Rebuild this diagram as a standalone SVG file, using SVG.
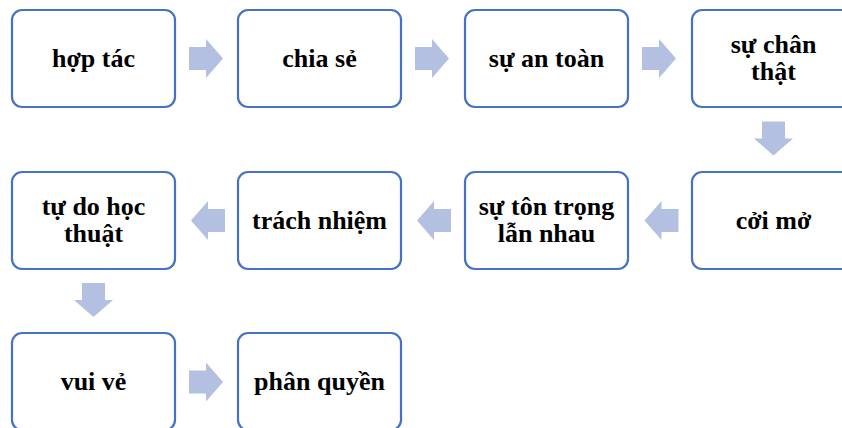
<svg xmlns="http://www.w3.org/2000/svg" xmlns:xlink="http://www.w3.org/1999/xlink" width="842" height="428" viewBox="0 0 842 428">
  <style>
    .box { fill: #ffffff; stroke: #4472C4; stroke-width: 2.2; }
    .lbl { font-family: 'Liberation Serif', 'Times New Roman', serif; font-weight: 700; font-size: 26px; fill: #000000; text-anchor: middle; }
    .arr { fill: #B3C0E2; }
  </style>
  <defs>
    <!-- block arrow pointing right, centred on the origin -->
    <path id="blockArrow" class="arr" d="M-17,-11.5 H0 V-19.5 L17,0 L0,19.5 V11.5 H-17 Z"/>
  </defs>
  <rect width="842" height="428" fill="#ffffff"/>

  <g id="connectors">
    <use xlink:href="#blockArrow" transform="translate(206,58.5)"/>
    <use xlink:href="#blockArrow" transform="translate(432,58.5)"/>
    <use xlink:href="#blockArrow" transform="translate(659,58.5)"/>
    <use xlink:href="#blockArrow" transform="translate(773.5,138.5) rotate(90)"/>
    <use xlink:href="#blockArrow" transform="translate(661.5,220.5) rotate(180)"/>
    <use xlink:href="#blockArrow" transform="translate(434,220.5) rotate(180)"/>
    <use xlink:href="#blockArrow" transform="translate(208,220.5) rotate(180)"/>
    <use xlink:href="#blockArrow" transform="translate(93.5,300) rotate(90)"/>
    <use xlink:href="#blockArrow" transform="translate(206,382)"/>
  </g>

  <g id="n1">
    <rect class="box" x="12" y="10" width="163" height="97" rx="10"/>
    <text class="lbl" x="93.5" y="66.5">hợp tác</text>
  </g>
  <g id="n2">
    <rect class="box" x="238" y="10" width="163" height="97" rx="10"/>
    <text class="lbl" x="319.5" y="66.5">chia sẻ</text>
  </g>
  <g id="n3">
    <rect class="box" x="465" y="10" width="163" height="97" rx="10"/>
    <text class="lbl" x="546.5" y="66.5">sự an toàn</text>
  </g>
  <g id="n4">
    <rect class="box" x="692" y="10" width="163" height="97" rx="10"/>
    <text class="lbl" x="773.5" y="53">sự chân</text>
    <text class="lbl" x="773.5" y="80">thật</text>
  </g>

  <g id="n5">
    <rect class="box" x="692" y="172" width="163" height="97" rx="10"/>
    <text class="lbl" x="773.5" y="228.5">cởi mở</text>
  </g>
  <g id="n6">
    <rect class="box" x="465" y="172" width="163" height="97" rx="10"/>
    <text class="lbl" x="546.5" y="215">sự tôn trọng</text>
    <text class="lbl" x="546.5" y="242">lẫn nhau</text>
  </g>
  <g id="n7">
    <rect class="box" x="238" y="172" width="163" height="97" rx="10"/>
    <text class="lbl" x="319.5" y="228.5">trách nhiệm</text>
  </g>
  <g id="n8">
    <rect class="box" x="12" y="172" width="163" height="97" rx="10"/>
    <text class="lbl" x="93.5" y="215">tự do học</text>
    <text class="lbl" x="93.5" y="242">thuật</text>
  </g>

  <g id="n9">
    <rect class="box" x="12" y="333" width="163" height="97" rx="10"/>
    <text class="lbl" x="93.5" y="390">vui vẻ</text>
  </g>
  <g id="n10">
    <rect class="box" x="238" y="333" width="163" height="97" rx="10"/>
    <text class="lbl" x="319.5" y="390">phân quyền</text>
  </g>
</svg>
